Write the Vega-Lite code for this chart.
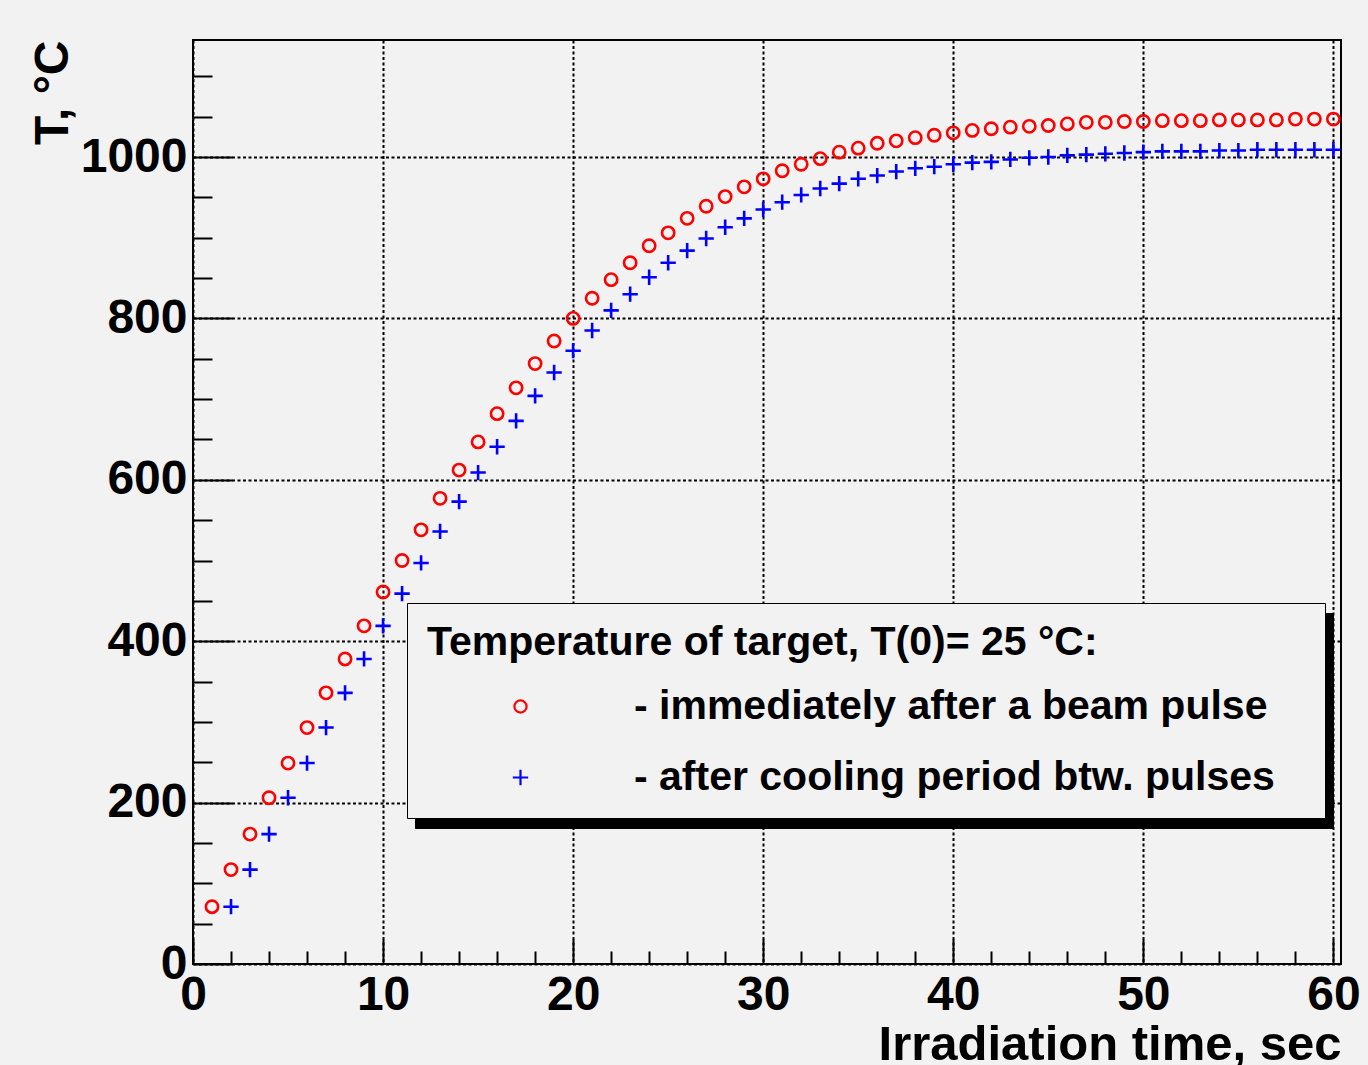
{
  "$schema": "https://vega.github.io/schema/vega-lite/v6.json",
  "width": 1148,
  "height": 924,
  "autosize": {"type": "none"},
  "padding": {"left": 193, "top": 40, "right": 27, "bottom": 101},
  "background": "#f2f2f2",
  "config": {
    "font": "Liberation Sans",
    "view": {"stroke": "black", "strokeWidth": 2, "fill": "#f2f2f2"}
  },
  "data": {
    "values": [
      {"t": 1, "T": 71, "s": "a"}, {"t": 2, "T": 117, "s": "a"}, {"t": 3, "T": 161, "s": "a"}, {"t": 4, "T": 206, "s": "a"},
      {"t": 5, "T": 249, "s": "a"}, {"t": 6, "T": 293, "s": "a"}, {"t": 7, "T": 336, "s": "a"}, {"t": 8, "T": 378, "s": "a"},
      {"t": 9, "T": 419, "s": "a"}, {"t": 10, "T": 461, "s": "a"}, {"t": 11, "T": 500, "s": "a"}, {"t": 12, "T": 538, "s": "a"},
      {"t": 13, "T": 577, "s": "a"}, {"t": 14, "T": 612, "s": "a"}, {"t": 15, "T": 647, "s": "a"}, {"t": 16, "T": 682, "s": "a"},
      {"t": 17, "T": 714, "s": "a"}, {"t": 18, "T": 744, "s": "a"}, {"t": 19, "T": 772, "s": "a"}, {"t": 20, "T": 800, "s": "a"},
      {"t": 21, "T": 825, "s": "a"}, {"t": 22, "T": 848, "s": "a"}, {"t": 23, "T": 869, "s": "a"}, {"t": 24, "T": 890, "s": "a"},
      {"t": 25, "T": 906, "s": "a"}, {"t": 26, "T": 924, "s": "a"}, {"t": 27, "T": 939, "s": "a"}, {"t": 28, "T": 951, "s": "a"},
      {"t": 29, "T": 963, "s": "a"}, {"t": 30, "T": 973, "s": "a"}, {"t": 31, "T": 983, "s": "a"}, {"t": 32, "T": 991, "s": "a"},
      {"t": 33, "T": 998, "s": "a"}, {"t": 34, "T": 1006, "s": "a"}, {"t": 35, "T": 1011, "s": "a"}, {"t": 36, "T": 1017, "s": "a"},
      {"t": 37, "T": 1020, "s": "a"}, {"t": 38, "T": 1024, "s": "a"}, {"t": 39, "T": 1027, "s": "a"}, {"t": 40, "T": 1030, "s": "a"},
      {"t": 41, "T": 1033, "s": "a"}, {"t": 42, "T": 1035, "s": "a"}, {"t": 43, "T": 1037, "s": "a"}, {"t": 44, "T": 1038, "s": "a"},
      {"t": 45, "T": 1039, "s": "a"}, {"t": 46, "T": 1041, "s": "a"}, {"t": 47, "T": 1043, "s": "a"}, {"t": 48, "T": 1043, "s": "a"},
      {"t": 49, "T": 1044, "s": "a"}, {"t": 50, "T": 1044, "s": "a"}, {"t": 51, "T": 1045, "s": "a"}, {"t": 52, "T": 1045, "s": "a"},
      {"t": 53, "T": 1045, "s": "a"}, {"t": 54, "T": 1046, "s": "a"}, {"t": 55, "T": 1046, "s": "a"}, {"t": 56, "T": 1046, "s": "a"},
      {"t": 57, "T": 1046, "s": "a"}, {"t": 58, "T": 1047, "s": "a"}, {"t": 59, "T": 1047, "s": "a"}, {"t": 60, "T": 1047, "s": "a"},
      {"t": 2, "T": 71, "s": "b"}, {"t": 3, "T": 117, "s": "b"}, {"t": 4, "T": 161, "s": "b"}, {"t": 5, "T": 206, "s": "b"},
      {"t": 6, "T": 249, "s": "b"}, {"t": 7, "T": 293, "s": "b"}, {"t": 8, "T": 336, "s": "b"}, {"t": 9, "T": 378, "s": "b"},
      {"t": 10, "T": 419, "s": "b"}, {"t": 11, "T": 459, "s": "b"}, {"t": 12, "T": 497, "s": "b"}, {"t": 13, "T": 536, "s": "b"},
      {"t": 14, "T": 573, "s": "b"}, {"t": 15, "T": 609, "s": "b"}, {"t": 16, "T": 641, "s": "b"}, {"t": 17, "T": 673, "s": "b"},
      {"t": 18, "T": 704, "s": "b"}, {"t": 19, "T": 733, "s": "b"}, {"t": 20, "T": 760, "s": "b"}, {"t": 21, "T": 785, "s": "b"},
      {"t": 22, "T": 810, "s": "b"}, {"t": 23, "T": 830, "s": "b"}, {"t": 24, "T": 851, "s": "b"}, {"t": 25, "T": 869, "s": "b"},
      {"t": 26, "T": 884, "s": "b"}, {"t": 27, "T": 899, "s": "b"}, {"t": 28, "T": 913, "s": "b"}, {"t": 29, "T": 924, "s": "b"},
      {"t": 30, "T": 935, "s": "b"}, {"t": 31, "T": 944, "s": "b"}, {"t": 32, "T": 953, "s": "b"}, {"t": 33, "T": 961, "s": "b"},
      {"t": 34, "T": 967, "s": "b"}, {"t": 35, "T": 973, "s": "b"}, {"t": 36, "T": 977, "s": "b"}, {"t": 37, "T": 982, "s": "b"},
      {"t": 38, "T": 986, "s": "b"}, {"t": 39, "T": 988, "s": "b"}, {"t": 40, "T": 991, "s": "b"}, {"t": 41, "T": 993, "s": "b"},
      {"t": 42, "T": 994, "s": "b"}, {"t": 43, "T": 997, "s": "b"}, {"t": 44, "T": 999, "s": "b"}, {"t": 45, "T": 1000, "s": "b"},
      {"t": 46, "T": 1002, "s": "b"}, {"t": 47, "T": 1003, "s": "b"}, {"t": 48, "T": 1004, "s": "b"}, {"t": 49, "T": 1005, "s": "b"},
      {"t": 50, "T": 1006, "s": "b"}, {"t": 51, "T": 1007, "s": "b"}, {"t": 52, "T": 1007, "s": "b"}, {"t": 53, "T": 1007, "s": "b"},
      {"t": 54, "T": 1008, "s": "b"}, {"t": 55, "T": 1008, "s": "b"}, {"t": 56, "T": 1009, "s": "b"}, {"t": 57, "T": 1009, "s": "b"},
      {"t": 58, "T": 1009, "s": "b"}, {"t": 59, "T": 1009, "s": "b"}, {"t": 60, "T": 1009, "s": "b"}
    ]
  },
  "layer": [
    {
      "mark": {"type": "point", "filled": false, "strokeWidth": 2.6, "size": 150, "opacity": 1},
      "encoding": {
        "x": {
          "field": "t", "type": "quantitative",
          "scale": {"domain": [0, 60.4], "nice": false, "zero": false},
          "axis": {
            "orient": "bottom",
            "values": [0, 10, 20, 30, 40, 50, 60],
            "format": "d",
            "grid": true, "gridColor": "black", "gridDash": [3, 2.5], "gridWidth": 2, "gridOpacity": 1,
            "domain": false,
            "ticks": true, "tickSize": -25, "tickWidth": 2, "tickColor": "black",
            "labelFontSize": 48, "labelFontWeight": "bold", "labelColor": "black", "labelPadding": 32,
            "labelFlush": false, "labelOverlap": false,
            "title": "Irradiation time, sec", "titleFontSize": 49, "titleFontWeight": "bold", "titleColor": "black",
            "titleAnchor": "end", "titlePadding": 1
          }
        },
        "y": {
          "field": "T", "type": "quantitative",
          "scale": {"domain": [0, 1145], "nice": false, "zero": false},
          "axis": {
            "orient": "left",
            "values": [0, 200, 400, 600, 800, 1000],
            "format": "d",
            "grid": true, "gridColor": "black", "gridDash": [3, 2.5], "gridWidth": 2, "gridOpacity": 1,
            "domain": false,
            "ticks": true, "tickSize": -39, "tickWidth": 2, "tickColor": "black",
            "labelFontSize": 48, "labelFontWeight": "bold", "labelColor": "black", "labelPadding": 45,
            "labelFlush": false, "labelOverlap": false,
            "title": "T, °C", "titleFontSize": 48, "titleFontWeight": "bold", "titleColor": "black",
            "titleAnchor": "end", "titlePadding": 3
          }
        },
        "color": {
          "field": "s", "type": "nominal",
          "scale": {"domain": ["a", "b"], "range": ["#ff0000", "#0000ff"]},
          "legend": {
            "orient": "none", "legendX": 214, "legendY": 563, "zindex": 1,
            "title": "Temperature of target, T(0)= 25 °C:",
            "titleFontSize": 41, "titleFontWeight": "bold", "titleColor": "black", "titleLimit": 2000, "titlePadding": 22,
            "labelFontSize": 41, "labelFontWeight": "bold", "labelColor": "black", "labelLimit": 2000,
            "labelExpr": "datum.value == 'a' ? '- immediately after a beam pulse\u2800' : '- after cooling period btw. pulses\u2800'",
            "labelOffset": 93, "symbolOffset": 73, "symbolSize": 150, "symbolStrokeWidth": 2.2,
            "rowPadding": 29, "padding": 20,
            "fillColor": "#f2f2f2", "strokeColor": "black",
            "encode": {"legend": {"update": {"strokeWidth": {"value": 2}}}}
          }
        },
        "shape": {
          "field": "s", "type": "nominal",
          "scale": {"domain": ["a", "b"], "range": ["circle", "M-1.25,0H1.25M0,-1.25V1.25"]},
          "legend": {
            "orient": "none", "legendX": 214, "legendY": 563, "zindex": 1,
            "title": "Temperature of target, T(0)= 25 °C:",
            "titleFontSize": 41, "titleFontWeight": "bold", "titleColor": "black", "titleLimit": 2000, "titlePadding": 22,
            "labelFontSize": 41, "labelFontWeight": "bold", "labelColor": "black", "labelLimit": 2000,
            "labelExpr": "datum.value == 'a' ? '- immediately after a beam pulse\u2800' : '- after cooling period btw. pulses\u2800'",
            "labelOffset": 93, "symbolOffset": 73, "symbolSize": 150, "symbolStrokeWidth": 2.2,
            "rowPadding": 29, "padding": 20,
            "fillColor": "#f2f2f2", "strokeColor": "black",
            "encode": {"legend": {"update": {"strokeWidth": {"value": 2}}}}
          }
        }
      }
    },
    {
      "mark": {"type": "point", "filled": false, "opacity": 0, "size": 150},
      "encoding": {
        "x": {
          "field": "t", "type": "quantitative",
          "scale": {"domain": [0, 60.4], "nice": false, "zero": false},
          "axis": {
            "orient": "bottom",
            "values": [2, 4, 6, 8, 12, 14, 16, 18, 22, 24, 26, 28, 32, 34, 36, 38, 42, 44, 46, 48, 52, 54, 56, 58],
            "labels": false, "grid": false, "domain": false,
            "ticks": true, "tickSize": -13, "tickWidth": 2, "tickColor": "black",
            "title": null
          }
        },
        "y": {
          "field": "T", "type": "quantitative",
          "scale": {"domain": [0, 1145], "nice": false, "zero": false},
          "axis": {
            "orient": "left",
            "values": [50, 100, 150, 250, 300, 350, 450, 500, 550, 650, 700, 750, 850, 900, 950, 1050, 1100],
            "labels": false, "grid": false, "domain": false,
            "ticks": true, "tickSize": -19, "tickWidth": 2, "tickColor": "black",
            "title": null
          }
        },
        "shape": {
          "field": "s", "type": "nominal",
          "scale": {"domain": ["a", "b"], "range": ["circle", "M-1.25,0H1.25M0,-1.25V1.25"]},
          "legend": {
            "orient": "none", "legendX": 222, "legendY": 573, "zindex": 0,
            "title": "Temperature of target, T(0)= 25 °C:",
            "titleFontSize": 41, "titleFontWeight": "bold", "titleColor": "black", "titleLimit": 2000, "titlePadding": 22,
            "labelFontSize": 41, "labelFontWeight": "bold", "labelColor": "black", "labelLimit": 2000,
            "labelExpr": "datum.value == 'a' ? '- immediately after a beam pulse\u2800' : '- after cooling period btw. pulses\u2800'",
            "labelOffset": 93, "symbolOffset": 73, "symbolSize": 150, "symbolStrokeWidth": 2.2,
            "symbolStrokeColor": "black",
            "rowPadding": 29, "padding": 20,
            "fillColor": "black", "strokeColor": "black"
          }
        }
      }
    }
  ],
  "resolve": {"scale": {"x": "independent", "y": "independent", "shape": "independent", "color": "independent"}}
}
